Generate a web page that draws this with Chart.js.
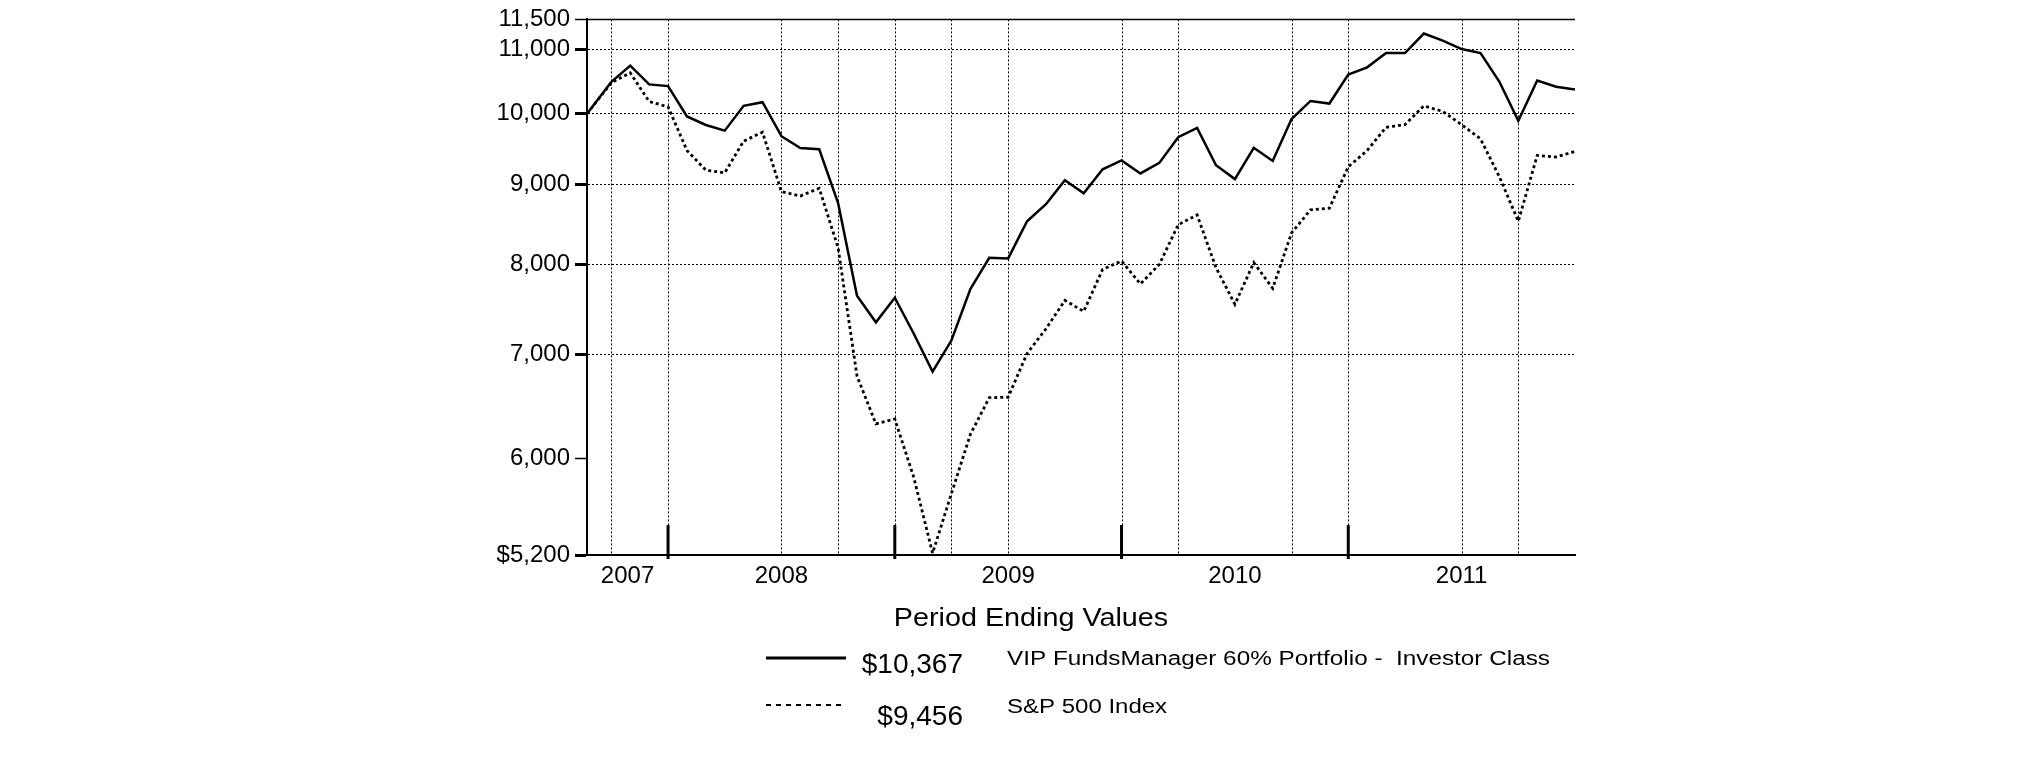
<!DOCTYPE html>
<html>
<head>
<meta charset="utf-8">
<script src="https://cdn.jsdelivr.net/npm/chart.js@4.4.1/dist/chart.umd.min.js"></script>
<style>
  body { margin: 0; background: #fff; }
  #wrap { width: 2025px; height: 761px; }
</style>
</head>
<body>
<div id="wrap"><canvas id="growthChart"></canvas></div>
<script>
// inception date, then month ends through Dec 2011
const startDate = '2007-08-22';
const firstMonthEnd = '2007-09';
const endMonth = '2011-12';

const fundValues = [10000, 10485, 10739, 10444, 10418, 9960, 9834, 9752, 10117, 10172, 9672, 9504, 9487,
  8758, 7637, 7341, 7613, 7220, 6824, 7148, 7712, 8078, 8070, 8527, 8745, 9063, 8887, 9210, 9332, 9153,
  9297, 9658, 9791, 9265, 9077, 9508, 9324, 9921, 10191, 10152, 10598, 10712, 10941, 10941, 11261, 11145,
  11006, 10941, 10485, 9896, 10505, 10409, 10367];
const indexValues = [10000, 10470, 10625, 10182, 10102, 9470, 9197, 9162, 9602, 9729, 8910, 8852, 8954,
  8197, 6780, 6315, 6361, 5837, 5214, 5697, 6218, 6565, 6570, 7010, 7271, 7583, 7461, 7940, 8039, 7770,
  7999, 8483, 8607, 7960, 7540, 8020, 7720, 8381, 8672, 8694, 9243, 9470, 9801, 9839, 10117, 10034, 9839,
  9634, 9107, 8527, 9401, 9379, 9456];
const seriesNames = ['VIP FundsManager 60% Portfolio -  Investor Class', 'S&P 500 Index'];

const yearLabels = ['2007', '2008', '2009', '2010', '2011'];
const yearEnds = ['2007-12', '2008-12', '2009-12', '2010-12'];
const gridQuarterEnds = ['2007-09', '2007-12', '2008-06', '2008-09', '2008-12', '2009-03', '2009-06',
  '2009-12', '2010-03', '2010-09', '2010-12', '2011-06', '2011-09'];

const yTickValues = [5200, 6000, 7000, 8000, 9000, 10000, 11000, 11500];
const yTickLabels = ['$5,200', '6,000', '7,000', '8,000', '9,000', '10,000', '11,000', '11,500'];
const dottedY = [7000, 8000, 9000, 10000, 11000];
const boldY = [5200, 7000, 8000, 9000, 10000, 11000];

// month position helpers (months counted from year 0)
function dateValue(s) {
  const [y, m, d] = s.split('-').map(Number);
  const dim = new Date(y, m, 0).getDate();
  return y * 12 + (m - 1) + d / dim;
}
function monthEndValue(s) {
  const [y, m] = s.split('-').map(Number);
  return y * 12 + m;
}

const xValues = [dateValue(startDate)];
for (let v = monthEndValue(firstMonthEnd); v <= monthEndValue(endMonth); v++) xValues.push(v);

const bounds = [xValues[0]].concat(yearEnds.map(monthEndValue), [monthEndValue(endMonth)]);
const yearMids = yearLabels.map((_, i) => (bounds[i] + bounds[i + 1]) / 2);

const FONT = '"Liberation Sans", Arial, sans-serif';
Chart.defaults.font.family = FONT;
Chart.defaults.color = '#000';

function drawText(ctx, text, x, y, size, sx, align) {
  ctx.save();
  ctx.font = size + 'px ' + FONT;
  ctx.fillStyle = '#000';
  ctx.textAlign = align;
  ctx.textBaseline = 'alphabetic';
  ctx.translate(x, y);
  ctx.scale(sx, 1);
  ctx.fillText(text, 0, 0);
  ctx.restore();
}

const money = v => '$' + v.toLocaleString('en-US');

const decor = {
  id: 'decor',
  beforeDatasetsDraw(chart) {
    const { ctx, chartArea: a, scales: { x } } = chart;
    ctx.save();
    ctx.strokeStyle = '#000';
    ctx.lineWidth = 1;
    ctx.setLineDash([2, 2]);
    gridQuarterEnds.forEach(q => {
      const px = Math.round(x.getPixelForValue(monthEndValue(q))) + 0.5;
      ctx.beginPath();
      ctx.moveTo(px, a.top);
      ctx.lineTo(px, a.bottom);
      ctx.stroke();
    });
    ctx.setLineDash([]);
    ctx.lineWidth = 1.5;
    ctx.beginPath();
    ctx.moveTo(a.left, a.top);
    ctx.lineTo(a.right, a.top);
    ctx.stroke();
    ctx.restore();
  },
  afterDraw(chart) {
    const { ctx, chartArea: a, scales: { x } } = chart;
    ctx.save();
    ctx.strokeStyle = '#000';
    ctx.lineWidth = 3;
    yearEnds.forEach(q => {
      const px = x.getPixelForValue(monthEndValue(q));
      ctx.beginPath();
      ctx.moveTo(px, a.bottom - 30);
      ctx.lineTo(px, a.bottom + 4);
      ctx.stroke();
    });

    // legend block
    drawText(ctx, 'Period Ending Values', 1031, 626, 25, 1.15, 'center');
    ctx.lineWidth = 3;
    ctx.beginPath();
    ctx.moveTo(766, 658);
    ctx.lineTo(846, 658);
    ctx.stroke();
    ctx.lineWidth = 2;
    ctx.setLineDash([5, 5]);
    ctx.beginPath();
    ctx.moveTo(766, 705);
    ctx.lineTo(846, 705);
    ctx.stroke();
    ctx.setLineDash([]);
    drawText(ctx, money(fundValues[fundValues.length - 1]), 963, 673, 28, 1.0, 'right');
    drawText(ctx, money(indexValues[indexValues.length - 1]), 963, 725, 28, 1.0, 'right');
    drawText(ctx, seriesNames[0], 1007, 665, 20, 1.215, 'left');
    drawText(ctx, seriesNames[1], 1007, 713, 20, 1.2, 'left');
    ctx.restore();
  }
};

const ctx = document.getElementById('growthChart').getContext('2d');
const growthChart = new Chart(ctx, {
  type: 'line',
  data: {
    datasets: [
      {
        label: seriesNames[0],
        data: fundValues.map((v, i) => ({ x: xValues[i], y: v })),
        borderColor: '#000',
        borderWidth: 2.5,
        pointRadius: 0,
        tension: 0,
      },
      {
        label: seriesNames[1],
        data: indexValues.map((v, i) => ({ x: xValues[i], y: v })),
        borderColor: '#000',
        borderWidth: 2.8,
        borderDash: [3, 3],
        pointRadius: 0,
        tension: 0,
      }
    ]
  },
  options: {
    responsive: true,
    maintainAspectRatio: false,
    animation: false,
    layout: { padding: { top: 14, right: 450, bottom: 0, left: 0 } },
    scales: {
      x: {
        type: 'linear',
        min: xValues[0],
        max: xValues[xValues.length - 1],
        afterBuildTicks: s => { s.ticks = yearMids.map(v => ({ value: v })); },
        afterFit: s => { s.height = 206; },
        ticks: {
          callback: (v, i) => yearLabels[i],
          color: '#000',
          font: { size: 24 },
          padding: -1,
          autoSkip: false,
          maxRotation: 0,
        },
        grid: { display: false },
        border: { color: '#000', width: 2 },
      },
      y: {
        type: 'logarithmic',
        min: 5200,
        max: 11500,
        afterBuildTicks: s => { s.ticks = yTickValues.map(v => ({ value: v })); },
        afterFit: s => { s.width = 587; },
        ticks: {
          callback: (v, i) => yTickLabels[i],
          color: '#000',
          font: { size: 24 },
          padding: 5,
          autoSkip: false,
        },
        grid: {
          color: c => (c.tick && dottedY.includes(c.tick.value)) ? '#000' : 'rgba(0,0,0,0)',
          lineWidth: 1,
          tickColor: '#000',
          tickLength: 12,
          tickWidth: c => (c.tick && boldY.includes(c.tick.value)) ? 3 : 1.5,
        },
        border: { color: '#000', width: 2, dash: [2, 2] },
      }
    },
    plugins: {
      legend: { display: false },
      tooltip: { enabled: false },
    },
  },
  plugins: [decor]
});
</script>
</body>
</html>
